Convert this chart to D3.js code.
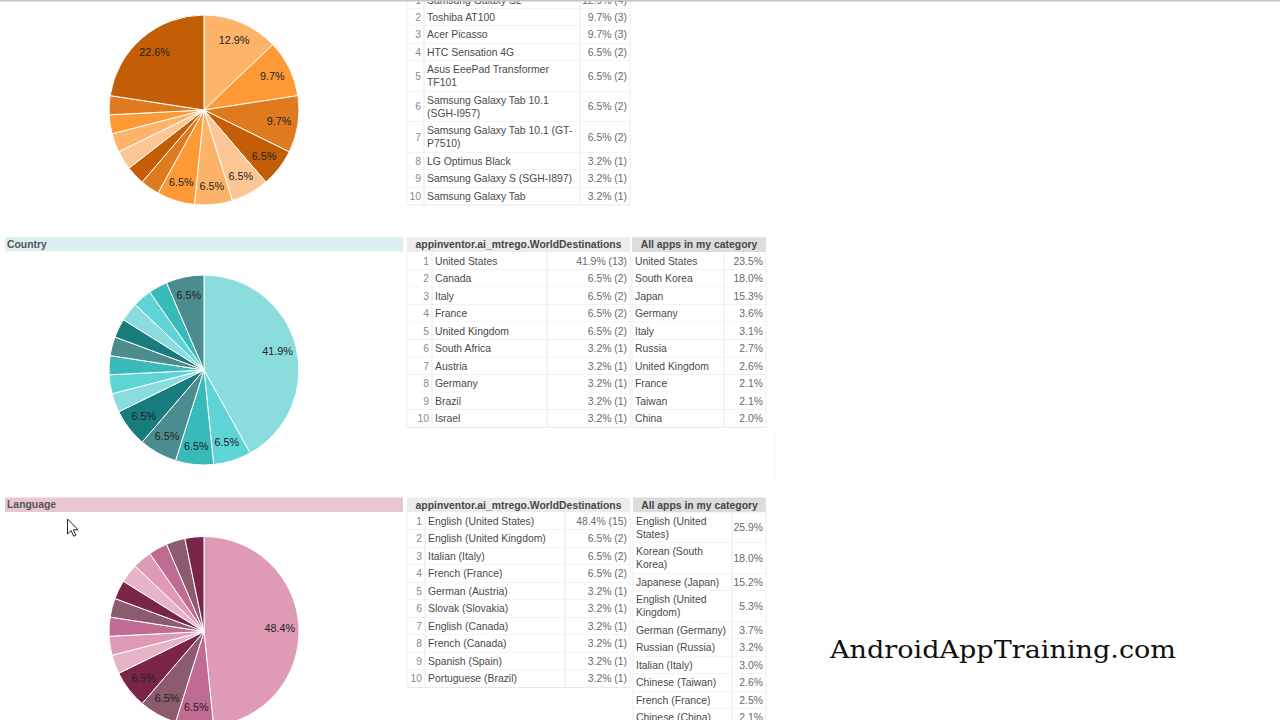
<!DOCTYPE html>
<html><head><meta charset="utf-8">
<script src="https://cdn.jsdelivr.net/npm/d3@7"></script>
<style>html,body{margin:0;padding:0;background:#fff;overflow:hidden}</style>
</head><body><svg id="c" width="1280" height="720"></svg>
<script>
// ---------------- DATA ----------------
const deviceSlices = [4,3,3,2,2,2,2,1,1,1,1,1,1,7];
const deviceNames = ["Samsung Galaxy S2","Toshiba AT100","Acer Picasso","HTC Sensation 4G","Asus EeePad Transformer TF101","Samsung Galaxy Tab 10.1 (SGH-I957)","Samsung Galaxy Tab 10.1 (GT-P7510)","LG Optimus Black","Samsung Galaxy S (SGH-I897)","Samsung Galaxy Tab"];
const deviceCounts = [4,3,3,2,2,2,2,1,1,1];

const countrySlices = [13,2,2,2,2,1,1,1,1,1,1,1,1,2];
const countryNames = ["United States","Canada","Italy","France","United Kingdom","South Africa","Austria","Germany","Brazil","Israel"];
const countryCounts = [13,2,2,2,2,1,1,1,1,1];
const countryAllNames = ["United States","South Korea","Japan","Germany","Italy","Russia","United Kingdom","France","Taiwan","China"];
const countryAllPct = [23.5,18.0,15.3,3.6,3.1,2.7,2.6,2.1,2.1,2.0];

const languageSlices = [15,2,2,2,1,1,1,1,1,1,1,1,1,1];
const languageNames = ["English (United States)","English (United Kingdom)","Italian (Italy)","French (France)","German (Austria)","Slovak (Slovakia)","English (Canada)","French (Canada)","Spanish (Spain)","Portuguese (Brazil)"];
const languageCounts = [15,2,2,2,1,1,1,1,1,1];
const languageAllNames = ["English (United States)","Korean (South Korea)","Japanese (Japan)","English (United Kingdom)","German (Germany)","Russian (Russia)","Italian (Italy)","Chinese (Taiwan)","French (France)","Chinese (China)"];
const languageAllPct = [25.9,18.0,15.2,5.3,3.7,3.2,3.0,2.6,2.5,2.1];

const tableTitle = "appinventor.ai_mtrego.WorldDestinations";
const categoryTitle = "All apps in my category";
const sectionTitles = ["Country","Language"];
const watermark = "AndroidAppTraining.com";

// ---------------- STYLE ----------------
const FONT = "'Liberation Sans', Arial, sans-serif";
const FS = 10.4, LINE_H = 13, PAD = 2.25, HEADER_H = 15, PADX = 3;
const orangePalette = ["#fdb469","#fd9a35","#df7a1e","#c35e06","#fdc795"];
const tealPalette   = ["#8adcdd","#5fd4d6","#38babb","#4b8d8e","#187b7c"];
const pinkPalette   = ["#df9bb6","#c06b91","#8c5b6e","#7b2449","#e7b3c6"];
const R = 95;

const svg = d3.select("#c");
svg.append("rect").attr("width",1280).attr("height",720).attr("fill","#fff");

const meas = svg.append("text").attr("font-family",FONT).attr("font-size",FS).attr("visibility","hidden");
function measure(s){ meas.text(s); return meas.node().getComputedTextLength(); }
function wrap(s, w){
  const pieces = [];
  s.split(" ").forEach((word, wi) => {
    word.split(/(?<=-)/).forEach((p, pi) => pieces.push({sep:(pi===0 && wi>0)?" ":"", t:p}));
  });
  const lines = []; let cur = "";
  pieces.forEach(p => {
    const cand = cur === "" ? p.t : cur + p.sep + p.t;
    if (cur !== "" && measure(cand) > w) { lines.push(cur); cur = p.t; } else cur = cand;
  });
  if (cur) lines.push(cur);
  return lines;
}

function drawPie(cx, cy, values, palette){
  const total = d3.sum(values);
  const pie = d3.pie().sort(null).value(d => d);
  const arc = d3.arc().innerRadius(0).outerRadius(R);
  const labelArc = d3.arc().innerRadius(R*0.8).outerRadius(R*0.8);
  const color = d3.scaleOrdinal().domain(d3.range(5)).range(palette);
  const fmt = d3.format(".1f");
  const g = svg.append("g").attr("transform",`translate(${cx},${cy})`);
  const arcs = pie(values);
  g.selectAll("path").data(arcs).join("path")
    .attr("d", arc).attr("fill", (d,i) => color(i % 5))
    .attr("stroke","#fff").attr("stroke-width",1);
  g.selectAll("text").data(arcs.filter(d => d.value/total >= 0.05)).join("text")
    .attr("transform", d => `translate(${labelArc.centroid(d)})`)
    .attr("text-anchor","middle").attr("dy","0.36em")
    .attr("font-family",FONT).attr("font-size",10.8).attr("fill","#222")
    .text(d => fmt(d.value/total*100) + "%");
}

function drawTable({y, cols, header, headerFill, rows, wrapCol=-1, wrapW=1000}){
  const g = svg.append("g");
  const x0 = cols[0].x, x1 = cols[cols.length-1].x + cols[cols.length-1].w;
  let yy = y;
  if (header){
    g.append("rect").attr("x",x0).attr("y",yy).attr("width",x1-x0).attr("height",HEADER_H).attr("fill",headerFill);
    g.append("text").attr("x",(x0+x1)/2).attr("y",yy+HEADER_H/2+FS*0.36)
      .attr("text-anchor","middle").attr("font-family",FONT).attr("font-size",FS)
      .attr("font-weight","bold").attr("fill","#474747").text(header);
    yy += HEADER_H;
  }
  const bodyTop = yy;
  rows.forEach(cells => {
    const lines = cells.map((c,ci) => ci === wrapCol ? wrap(c, wrapW) : [c]);
    const n = d3.max(lines, l => l.length);
    const h = PAD*2 + n*LINE_H;
    g.append("rect").attr("x",x0).attr("y",yy).attr("width",x1-x0).attr("height",h).attr("fill","#fff");
    g.append("line").attr("x1",x0).attr("x2",x1).attr("y1",yy+h).attr("y2",yy+h).attr("stroke","#e9e9e9");
    cols.forEach((col,ci) => {
      const ls = lines[ci];
      const start = yy + h/2 - (ls.length-1)*LINE_H/2;
      ls.forEach((t,li) => {
        g.append("text")
          .attr("x", col.align === "right" ? col.x + col.w - PADX : col.x + PADX)
          .attr("y", start + li*LINE_H + FS*0.36)
          .attr("text-anchor", col.align === "right" ? "end" : "start")
          .attr("font-family",FONT).attr("font-size",FS).attr("fill",col.color)
          .text(t);
      });
    });
    yy += h;
  });
  cols.forEach((c,i) => { if (i>0) g.append("line").attr("x1",c.x).attr("x2",c.x).attr("y1",bodyTop).attr("y2",yy).attr("stroke","#e9e9e9"); });
  g.append("line").attr("x1",x0).attr("x2",x0).attr("y1",bodyTop).attr("y2",yy).attr("stroke","#eeeeee");
  g.append("line").attr("x1",x1).attr("x2",x1).attr("y1",bodyTop).attr("y2",yy).attr("stroke","#eeeeee");
}

const pctFmt = d3.format(".1f");
function shareText(counts, total){ return counts.map(c => pctFmt(c/total*100) + "% (" + c + ")"); }

// ---------------- DEVICE SECTION ----------------
drawPie(204, 110, deviceSlices, orangePalette);
{
  const total = d3.sum(deviceSlices), vals = shareText(deviceCounts, total);
  drawTable({
    y: -9,
    cols: [{x:407,w:17,align:"right",color:"#8a8a8a"},{x:424,w:156,color:"#4a4a4a"},{x:580,w:50,align:"right",color:"#6a6a6a"}],
    rows: deviceNames.map((n,i) => [String(i+1), n, vals[i]]),
    wrapCol: 1, wrapW: 151
  });
}
svg.append("rect").attr("x",0).attr("y",0).attr("width",1280).attr("height",1.5).attr("fill","#c6c6c6");

// ---------------- COUNTRY SECTION ----------------
function sectionBar(y, fill, title){
  svg.append("rect").attr("x",5).attr("y",y).attr("width",398).attr("height",14.5).attr("fill",fill);
  svg.append("text").attr("x",7).attr("y",y+7.25+FS*0.36).attr("font-family",FONT).attr("font-size",FS)
    .attr("font-weight","bold").attr("fill","#555").text(title);
}
sectionBar(237, "#dbeff1", sectionTitles[0]);
drawPie(204, 370, countrySlices, tealPalette);
{
  const total = d3.sum(countrySlices), vals = shareText(countryCounts, total);
  drawTable({
    y: 237.25, header: tableTitle, headerFill: "#ececec",
    cols: [{x:407,w:25,align:"right",color:"#8a8a8a"},{x:432,w:115,color:"#4a4a4a"},{x:547,w:83,align:"right",color:"#6a6a6a"}],
    rows: countryNames.map((n,i) => [String(i+1), n, vals[i]])
  });
  drawTable({
    y: 237.25, header: categoryTitle, headerFill: "#dcdcdc",
    cols: [{x:632,w:92,color:"#4a4a4a"},{x:724,w:42,align:"right",color:"#6a6a6a"}],
    rows: countryAllNames.map((n,i) => [n, pctFmt(countryAllPct[i]) + "%"])
  });
}
svg.append("line").attr("x1",775).attr("x2",775).attr("y1",432).attr("y2",482).attr("stroke","#f3f3f3");

// ---------------- LANGUAGE SECTION ----------------
sectionBar(497.5, "#e8c7d2", sectionTitles[1]);
drawPie(204, 631.5, languageSlices, pinkPalette);
{
  const total = d3.sum(languageSlices), vals = shareText(languageCounts, total);
  drawTable({
    y: 497.5, header: tableTitle, headerFill: "#ececec",
    cols: [{x:407,w:18,align:"right",color:"#8a8a8a"},{x:425,w:140,color:"#4a4a4a"},{x:565,w:65,align:"right",color:"#6a6a6a"}],
    rows: languageNames.map((n,i) => [String(i+1), n, vals[i]])
  });
  drawTable({
    y: 497.5, header: categoryTitle, headerFill: "#dcdcdc",
    cols: [{x:633,w:99,color:"#4a4a4a"},{x:732,w:34,align:"right",color:"#6a6a6a"}],
    rows: languageAllNames.map((n,i) => [n, pctFmt(languageAllPct[i]) + "%"]),
    wrapCol: 0, wrapW: 95
  });
}

// ---------------- WATERMARK & CURSOR ----------------
svg.append("text").attr("x",830).attr("y",658).attr("font-family","'DejaVu Serif', serif")
  .attr("font-size",25).attr("fill","#111").attr("textLength",346).attr("lengthAdjust","spacingAndGlyphs")
  .text(watermark);
svg.append("path")
  .attr("d","M0,0 L0,15 L3.6,11.6 L6.2,17.2 L8.4,16.2 L5.8,10.8 L10.6,10.8 Z")
  .attr("transform","translate(67.5,519)")
  .attr("fill","#fff").attr("stroke","#222").attr("stroke-width",1).attr("stroke-linejoin","round");
</script>
</body></html>
